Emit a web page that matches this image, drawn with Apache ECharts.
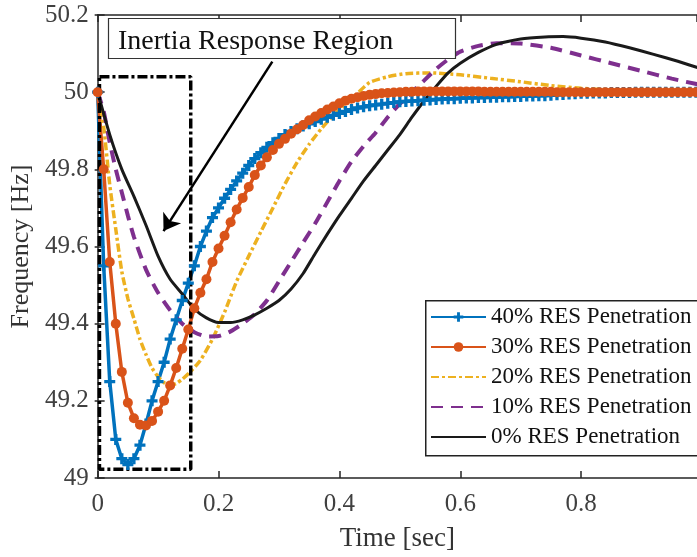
<!DOCTYPE html>
<html>
<head>
<meta charset="utf-8">
<script src="https://cdn.jsdelivr.net/npm/echarts@6/dist/echarts.min.js"></script>
<style>
  html, body { margin: 0; padding: 0; background: #fff; }
  #chart-container { width: 697px; height: 557px; }
</style>
</head>
<body>
<div id="chart-container"></div>
<script>
// 时间轴 (s)，40% 与 30% 曲线每 0.01 s 一个点
var timeFine = [
  0, 0.01, 0.02, 0.03, 0.04, 0.05, 0.06, 0.07, 0.08, 0.09,
  0.10, 0.11, 0.12, 0.13, 0.14, 0.15, 0.16, 0.17, 0.18, 0.19,
  0.20, 0.21, 0.22, 0.23, 0.24, 0.25, 0.26, 0.27, 0.28, 0.29,
  0.30, 0.31, 0.32, 0.33, 0.34, 0.35, 0.36, 0.37, 0.38, 0.39,
  0.40, 0.41, 0.42, 0.43, 0.44, 0.45, 0.46, 0.47, 0.48, 0.49,
  0.50, 0.51, 0.52, 0.53, 0.54, 0.55, 0.56, 0.57, 0.58, 0.59,
  0.60, 0.61, 0.62, 0.63, 0.64, 0.65, 0.66, 0.67, 0.68, 0.69,
  0.70, 0.71, 0.72, 0.73, 0.74, 0.75, 0.76, 0.77, 0.78, 0.79,
  0.80, 0.81, 0.82, 0.83, 0.84, 0.85, 0.86, 0.87, 0.88, 0.89,
  0.90, 0.91, 0.92, 0.93, 0.94, 0.95, 0.96, 0.97, 0.98, 0.99, 1.00
];

var freq40 = [
  50.00, 49.55, 49.25, 49.10, 49.05, 49.035, 49.05, 49.085, 49.14, 49.20,
  49.25, 49.30, 49.36, 49.41, 49.46, 49.505, 49.55, 49.60, 49.64, 49.675,
  49.70, 49.725, 49.748, 49.77, 49.79, 49.81, 49.828, 49.843, 49.857, 49.869,
  49.88, 49.89, 49.898, 49.905, 49.912, 49.918, 49.924, 49.93, 49.935, 49.94,
  49.945, 49.95, 49.955, 49.959, 49.962, 49.965, 49.967, 49.969, 49.971, 49.973,
  49.975, 49.976, 49.977, 49.978, 49.979, 49.98, 49.981, 49.982, 49.983, 49.983,
  49.984, 49.985, 49.985, 49.986, 49.986, 49.987, 49.987, 49.988, 49.988, 49.989,
  49.989, 49.99, 49.99, 49.991, 49.991, 49.992, 49.993, 49.994, 49.995, 49.996,
  49.997, 49.997, 49.998, 49.998, 49.998, 49.999, 49.999, 49.999, 49.999, 50.0,
  50.0, 50.0, 50.0, 50.0, 50.0, 50.0, 50.0, 50.0, 50.0, 50.0, 50.0
];

var freq30 = [
  50.00, 49.80, 49.56, 49.40, 49.275, 49.195, 49.155, 49.138, 49.136, 49.148,
  49.172, 49.20, 49.24, 49.285, 49.335, 49.385, 49.44, 49.48, 49.515, 49.56,
  49.595, 49.628, 49.663, 49.696, 49.726, 49.754, 49.785, 49.81, 49.831, 49.85,
  49.866, 49.879, 49.892, 49.904, 49.915, 49.927, 49.937, 49.946, 49.955, 49.963,
  49.971, 49.978, 49.983, 49.987, 49.99, 49.993, 49.995, 49.997, 49.998, 49.999,
  50.0, 50.001, 50.001, 50.002, 50.002, 50.002, 50.002, 50.002, 50.002, 50.002,
  50.002, 50.002, 50.002, 50.002, 50.001, 50.001, 50.001, 50.001, 50.001, 50.001,
  50.001, 50.001, 50.001, 50.001, 50.001, 50.001, 50.0, 50.0, 50.0, 50.0,
  50.0, 50.0, 50.0, 50.0, 50.0, 50.0, 50.0, 50.0, 50.0, 50.0,
  50.0, 50.0, 50.0, 50.0, 50.0, 50.0, 50.0, 50.0, 50.0, 50.0, 50.0
];

var time20 = [0, 0.01, 0.02, 0.03, 0.04, 0.05, 0.06, 0.07, 0.08, 0.09, 0.10, 0.11, 0.12, 0.13, 0.14, 0.15,
  0.17, 0.19, 0.21, 0.23, 0.25, 0.27, 0.29, 0.31, 0.33, 0.35, 0.37, 0.39, 0.41, 0.43, 0.45,
  0.48, 0.51, 0.55, 0.60, 0.65, 0.70, 0.75, 0.80, 0.85, 0.90, 0.95, 1.0];
var freq20 = [50, 49.91, 49.76, 49.645, 49.535, 49.465, 49.413, 49.36, 49.32, 49.285, 49.262, 49.247, 49.24, 49.245, 49.256, 49.27,
  49.305, 49.36, 49.43, 49.51, 49.575, 49.638, 49.70, 49.762, 49.818, 49.865, 49.905, 49.94, 49.968, 49.997, 50.025,
  50.04, 50.048, 50.05, 50.045, 50.036, 50.027, 50.017, 50.01, 50.006, 50.003, 50.001, 50.0];

var time10 = [0, 0.01, 0.02, 0.03, 0.04, 0.05, 0.06,
  0.08, 0.10, 0.12, 0.14, 0.16, 0.18, 0.20, 0.22, 0.24, 0.26, 0.28, 0.30, 0.32, 0.34, 0.36, 0.38,
  0.40, 0.42, 0.44, 0.46, 0.48, 0.50, 0.52, 0.54, 0.56, 0.58, 0.60,
  0.63, 0.66, 0.70, 0.75, 0.80, 0.85, 0.90, 0.95, 1.0];
var freq10 = [50, 49.95, 49.87, 49.80, 49.74, 49.68, 49.625,
  49.54, 49.48, 49.435, 49.40, 49.378, 49.367, 49.368, 49.38, 49.40, 49.425, 49.46, 49.51, 49.56, 49.61, 49.66, 49.715,
  49.77, 49.82, 49.86, 49.895, 49.935, 49.97, 50.0, 50.03, 50.06, 50.085, 50.105,
  50.12, 50.127, 50.126, 50.115, 50.095, 50.075, 50.055, 50.035, 50.018];

var time0 = [0, 0.02, 0.04, 0.06, 0.08, 0.10, 0.12, 0.14, 0.16, 0.18, 0.20, 0.22, 0.24, 0.26, 0.28, 0.30,
  0.32, 0.34, 0.36, 0.38, 0.40, 0.42, 0.44, 0.46, 0.48, 0.50, 0.52, 0.54, 0.56, 0.58, 0.60,
  0.63, 0.66, 0.70, 0.74, 0.77, 0.80, 0.84, 0.88, 0.92, 0.96, 1.0];
var freq0 = [50, 49.89, 49.80, 49.73, 49.655, 49.575, 49.515, 49.477, 49.438, 49.415, 49.403, 49.403, 49.41, 49.423, 49.44, 49.46,
  49.49, 49.53, 49.582, 49.632, 49.68, 49.725, 49.77, 49.81, 49.85, 49.89, 49.935, 49.977, 50.015, 50.05, 50.075,
  50.103, 50.124, 50.138, 50.143, 50.144, 50.14, 50.13, 50.115, 50.098, 50.08, 50.06];

// 图例名称
var seriesNames = ['40% RES Penetration', '30% RES Penetration', '20% RES Penetration',
  '10% RES Penetration', '0% RES Penetration'];

// 惯性响应区域 (虚线框) 与箭头
var boxTime = [0.003, 0.154, 0.154, 0.003, 0.003];
var boxFreq = [50.04, 50.04, 49.023, 49.023, 50.04];
var arrowFrom = [0.289, 50.079];
var arrowTo = [0.109, 49.64];

// 原图在 t ≈ 0.992 处被裁掉
var timeVisibleMax = 0.9917;

function pairs(ts, vs) {
  return ts.map(function (t, i) { return [t, vs[i]]; });
}

var container = document.getElementById('chart-container');
var myChart = echarts.init(container);

var serif = 'Liberation Serif';
var axisColor = '#262626';
var plusPath = 'path://M3.5,0H6.5V3.5H10V6.5H6.5V10H3.5V6.5H0V3.5H3.5Z';

// 没有标记点的曲线，图例里隐藏圆点
var legendData = seriesNames.map(function (name, i) {
  return i < 2 ? { name: name } : { name: name, itemStyle: { opacity: 0 } };
});

myChart.setOption({
  animation: false,
  backgroundColor: '#fff',
  title: {
    text: 'Inertia Response Region',
    left: 108,
    top: 18,
    padding: [9, 62, 3, 10],
    borderColor: '#333',
    borderWidth: 1.2,
    backgroundColor: '#fff',
    textStyle: { fontFamily: serif, fontSize: 28, fontWeight: 'normal', color: '#111', lineHeight: 29 }
  },
  // 图例外框 (右侧被裁掉)
  graphic: [{
    type: 'rect',
    left: 425,
    top: 300,
    z: 100,
    shape: { width: 320, height: 155 },
    style: { fill: '#fff', stroke: '#222', lineWidth: 1.5 }
  }],
  legend: {
    orient: 'vertical',
    left: 425,
    top: 300,
    z: 110,
    padding: [5, 5, 6, 5],
    itemWidth: 55,
    itemHeight: 12,
    itemGap: 6,
    data: legendData,
    textStyle: { fontFamily: serif, fontSize: 23, color: '#111', lineHeight: 24 }
  },
  grid: { left: 97, top: 15, right: 0, bottom: 77 },
  xAxis: [{
    type: 'value', min: 0, max: timeVisibleMax, interval: 0.2,
    name: 'Time [sec]', nameLocation: 'middle', nameGap: 47,
    nameTextStyle: { fontFamily: serif, fontSize: 27, color: '#333' },
    axisLine: { lineStyle: { color: axisColor, width: 1.5 } },
    axisTick: { inside: true, length: 7, lineStyle: { color: axisColor, width: 1.5 } },
    axisLabel: { fontFamily: serif, fontSize: 25, color: '#404040', margin: 14, showMaxLabel: false },
    splitLine: { show: false }
  }, {
    type: 'value', min: 0, max: timeVisibleMax, interval: 0.2, position: 'top',
    axisLine: { lineStyle: { color: axisColor, width: 1.5 } },
    axisTick: { inside: true, length: 7, lineStyle: { color: axisColor, width: 1.5 } },
    axisLabel: { show: false },
    splitLine: { show: false }
  }],
  yAxis: [{
    type: 'value', min: 49, max: 50.2, interval: 0.2,
    name: 'Frequency [Hz]', nameLocation: 'middle', nameGap: 54,
    nameTextStyle: { fontFamily: serif, fontSize: 26, color: '#333' },
    axisLine: { show: true, lineStyle: { color: axisColor, width: 1.5 } },
    axisTick: { show: true, inside: true, length: 7, lineStyle: { color: axisColor, width: 1.5 } },
    axisLabel: { fontFamily: serif, fontSize: 25, color: '#404040', margin: 9 },
    splitLine: { show: false }
  }, {
    type: 'value', min: 49, max: 50.2, interval: 0.2, position: 'right',
    axisLine: { show: false },
    axisTick: { show: true, inside: true, length: 3, lineStyle: { color: axisColor, width: 1.5 } },
    axisLabel: { show: false },
    splitLine: { show: false }
  }],
  series: [
    {
      name: seriesNames[0],
      type: 'line',
      data: pairs(timeFine, freq40),
      symbol: plusPath,
      symbolSize: 11,
      itemStyle: { color: '#0072BD' },
      lineStyle: { color: '#0072BD', width: 3.5 }
    },
    {
      name: seriesNames[1],
      type: 'line',
      data: pairs(timeFine, freq30),
      symbol: 'circle',
      symbolSize: 10,
      itemStyle: { color: '#D95319' },
      lineStyle: { color: '#D95319', width: 3.5 }
    },
    {
      name: seriesNames[2],
      type: 'line',
      data: pairs(time20, freq20),
      showSymbol: false,
      symbol: 'none',
      smooth: 0.2,
      itemStyle: { color: '#EDB120' },
      lineStyle: { color: '#EDB120', width: 3.5, type: [8, 3, 3, 3] }
    },
    {
      name: seriesNames[3],
      type: 'line',
      data: pairs(time10, freq10),
      showSymbol: false,
      symbol: 'none',
      smooth: 0.2,
      itemStyle: { color: '#7E2F8E' },
      lineStyle: { color: '#7E2F8E', width: 4, type: [12, 8] }
    },
    {
      name: seriesNames[4],
      type: 'line',
      data: pairs(time0, freq0),
      showSymbol: false,
      symbol: 'none',
      smooth: 0.2,
      itemStyle: { color: '#1a1a1a' },
      lineStyle: { color: '#1a1a1a', width: 3 }
    },
    {
      name: 'inertia-box',
      type: 'line',
      data: pairs(boxTime, boxFreq),
      symbol: 'none',
      silent: true,
      lineStyle: { color: '#000', width: 3.5, type: [10, 3, 3, 3] },
      markLine: {
        silent: true,
        symbol: ['none', 'arrow'],
        symbolSize: 16,
        label: { show: false },
        lineStyle: { color: '#000', width: 2.5, type: 'solid' },
        data: [[{ coord: arrowFrom }, { coord: arrowTo }]]
      }
    }
  ]
});
</script>
</body>
</html>
